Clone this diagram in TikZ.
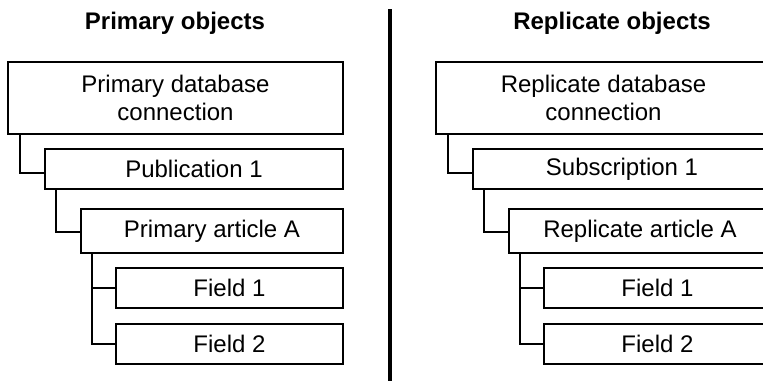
\documentclass[tikz,border=0pt]{standalone}
\usepackage{fontspec}
\setmainfont{Liberation Sans}

\begin{document}
\begin{tikzpicture}[x=0.5pt,y=-0.5pt]
	\tikzstyle{every node}+=[inner sep=0pt]
	\tikzstyle{obj}=[draw=black, line width=0.9pt, align=center, font=\fontsize{12}{14}\selectfont]
	\tikzstyle{hdr}=[font=\fontsize{12}{14}\selectfont\bfseries]
	\tikzstyle{link}=[draw=black, line width=0.9pt]
	\useasboundingbox (0,0) rectangle (763,381);
	% primary side
	\node [hdr] (phead) at (175,23) {Primary objects};
	\node [obj, minimum width=167.5pt, minimum height=36pt] (pconn) at (175.5,98) {Primary database\\connection};
	\node [obj, minimum width=149pt, minimum height=20pt] (ppub) at (194,169) {Publication 1};
	\node [obj, minimum width=131pt, minimum height=22pt] (part) at (212,231) {Primary article A};
	\node [obj, minimum width=113.5pt, minimum height=20pt] (pfa) at (229.5,288) {Field 1};
	\node [obj, minimum width=113.5pt, minimum height=20pt] (pfb) at (229.5,344) {Field 2};
	\draw [link] ([xshift=6.5pt]pconn.south west) |- ([yshift=-2pt]ppub.west);
	\draw [link] ([xshift=6pt]ppub.south west) |- ([yshift=-0.5pt]part.west);
	\draw [link] ([xshift=6pt]part.south west) |- (pfb.west);
	\draw [link] ([xshift=6pt]part.south west) |- (pfa.west);
	% divider
	\draw [black, line width=1.75pt] (390,9) -- (390,381);
	% replicate side
	\node [hdr] (rhead) at (612,23) {Replicate objects};
	\node [obj, minimum width=167.5pt, minimum height=36pt] (rconn) at (603.5,98) {Replicate database\\connection};
	\node [obj, minimum width=149pt, minimum height=20pt] (rsub) at (622,169) {Subscription 1};
	\node [obj, minimum width=131pt, minimum height=22pt] (rart) at (640,231) {Replicate article A};
	\node [obj, minimum width=113.5pt, minimum height=20pt] (rfa) at (657.5,288) {Field 1};
	\node [obj, minimum width=113.5pt, minimum height=20pt] (rfb) at (657.5,344) {Field 2};
	\draw [link] ([xshift=6.5pt]rconn.south west) |- ([yshift=-2pt]rsub.west);
	\draw [link] ([xshift=6pt]rsub.south west) |- ([yshift=-0.5pt]rart.west);
	\draw [link] ([xshift=6pt]rart.south west) |- (rfb.west);
	\draw [link] ([xshift=6pt]rart.south west) |- (rfa.west);
\end{tikzpicture}
\end{document}
